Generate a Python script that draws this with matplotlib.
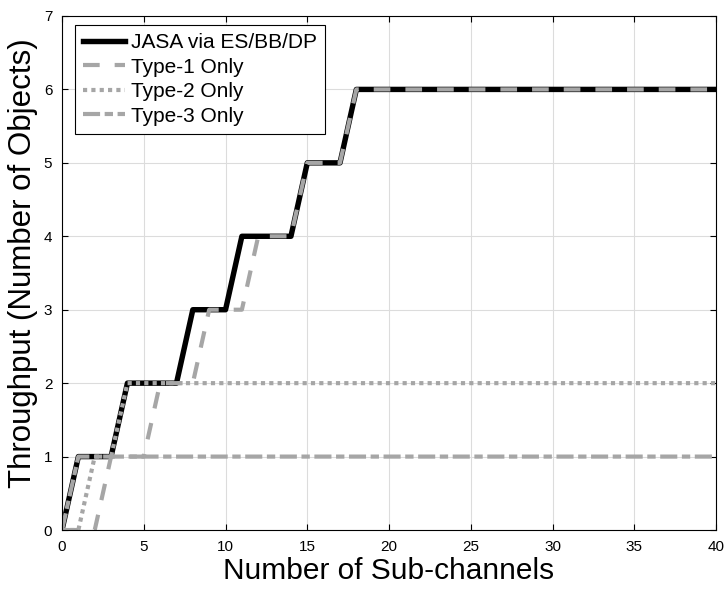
import matplotlib
matplotlib.use("Agg")
import matplotlib.pyplot as plt

plt.rcParams['font.family'] = ['Liberation Sans', 'DejaVu Sans']

# sub-channels 0..18, then flat until 40
channels = list(range(0, 19)) + [40]
jasa  = [0, 1, 1, 1, 2, 2, 2, 2, 3, 3, 3, 4, 4, 4, 4, 5, 5, 5, 6, 6]
type1 = [0, 0, 0, 1, 1, 1, 2, 2, 2, 3, 3, 3, 4, 4, 4, 5, 5, 5, 6, 6]
type2 = [0, 0, 1, 1, 2, 2, 2, 2, 2, 2, 2, 2, 2, 2, 2, 2, 2, 2, 2, 2]
type3 = [0, 1, 1, 1, 1, 1, 1, 1, 1, 1, 1, 1, 1, 1, 1, 1, 1, 1, 1, 1]

gray = '#a6a6a6'

fig = plt.figure(figsize=(7.27, 5.92), dpi=100)
ax = fig.add_axes([0.0853, 0.1047, 0.8997, 0.8683])

ax.plot(channels, jasa, color='black', lw=3.9, label='JASA via ES/BB/DP')
ax.plot(channels, type1, color=gray, lw=3.0, linestyle=(0, (4, 3.6)), label='Type-1 Only')
ax.plot(channels, type2, color=gray, lw=3.0, linestyle=(0, (1, 1)), label='Type-2 Only')
ax.plot(channels, type3, color=gray, lw=3.0, linestyle=(0, (4.1, 1.1, 2.0, 1.1)), label='Type-3 Only')

ax.set_xlim(0, 40)
ax.set_ylim(0, 7)
ax.set_xticks(range(0, 41, 5))
ax.set_yticks(range(0, 8))
ax.grid(True, color='#dcdcdc', lw=0.8)
ax.set_axisbelow(True)
ax.tick_params(direction='in', top=True, right=True, labelsize=11, length=4, pad=7)
for s in ax.spines.values():
    s.set_linewidth(0.8)

ax.set_xlabel('Number of Sub-channels', fontsize=21.5, labelpad=2)
ax.set_ylabel('Throughput (Number of Objects)', fontsize=22.5, labelpad=0)
ax.yaxis.set_label_coords(-0.036, 0.52)

leg = ax.legend(loc='upper left', bbox_to_anchor=(0.0199, 0.9825), borderaxespad=0,
                fontsize=15, handlelength=2.0, handletextpad=0.33,
                borderpad=0.38, labelspacing=0.27, fancybox=False, framealpha=1,
                edgecolor='black')
leg.get_frame().set_linewidth(0.8)

fig.savefig('out.png', dpi=100)
